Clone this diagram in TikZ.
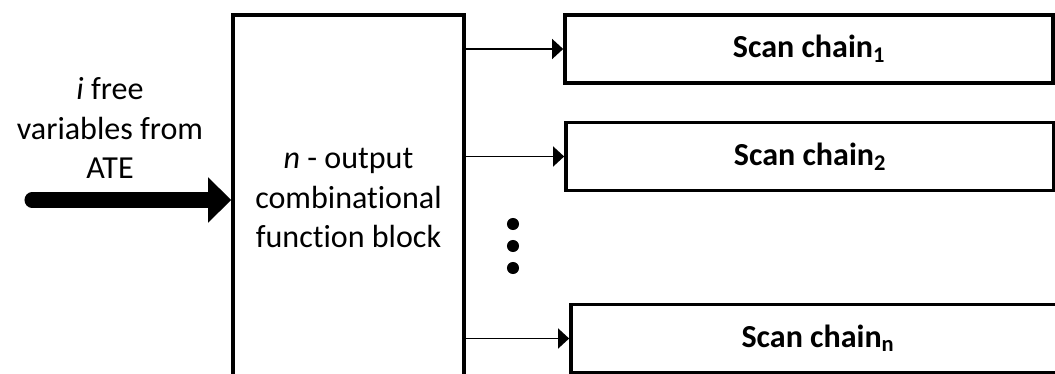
\documentclass[tikz,border=0pt]{standalone}
\usepackage{fontspec}
\setmainfont{Carlito}[Ligatures=NoCommon]
\usetikzlibrary{arrows.meta, positioning}
\newcommand{\diagfont}{\fontsize{22.8pt}{28pt}\selectfont}

\begin{document}
\begin{tikzpicture}[x=0.025cm, y=-0.025cm, font=\diagfont,
  box/.style={draw, line width=2.5pt, inner sep=0pt},
  chain/.style={box, minimum height=1.7cm, font=\diagfont\bfseries},
  feed/.style={-{Triangle[length=7.8pt, width=14pt]}, line width=1.4pt}]
  \useasboundingbox (0,0) rectangle (1055,374);
  % combinational block
  \node[box, minimum width=5.775cm, minimum height=9.15cm, align=center]
    (cfb) at (348.5,198) {\textit{n} - output\\combinational\\function block};
  % free variables from the ATE
  \node[align=center] (ate) at (110,128) {\textit{i} free\\variables from\\ATE};
  \coordinate (src) at (32,200);
  \draw[line width=10.7pt, line cap=round,
    -{Triangle[length=16.4pt, width=31.3pt]}] (src) -- (cfb.west |- src);
  % scan chains
  \node[chain, minimum width=12.2cm] (sc1) at (809,49) {Scan chain\textsubscript{1}};
  \node[chain, minimum width=12.2cm] (sc2) at (810,156.5) {Scan chain\textsubscript{2}};
  \node[chain, minimum width=12.35cm] (scn) at (818,338.5) {Scan chain\textsubscript{n}};
  \foreach \s in {sc1, sc2, scn}
    \draw[feed] (cfb.east |- \s.west) -- (\s.west);
  % dots
  \foreach \y in {224, 246, 268}
    \fill (513,\y) circle (4.3pt);
\end{tikzpicture}
\end{document}
